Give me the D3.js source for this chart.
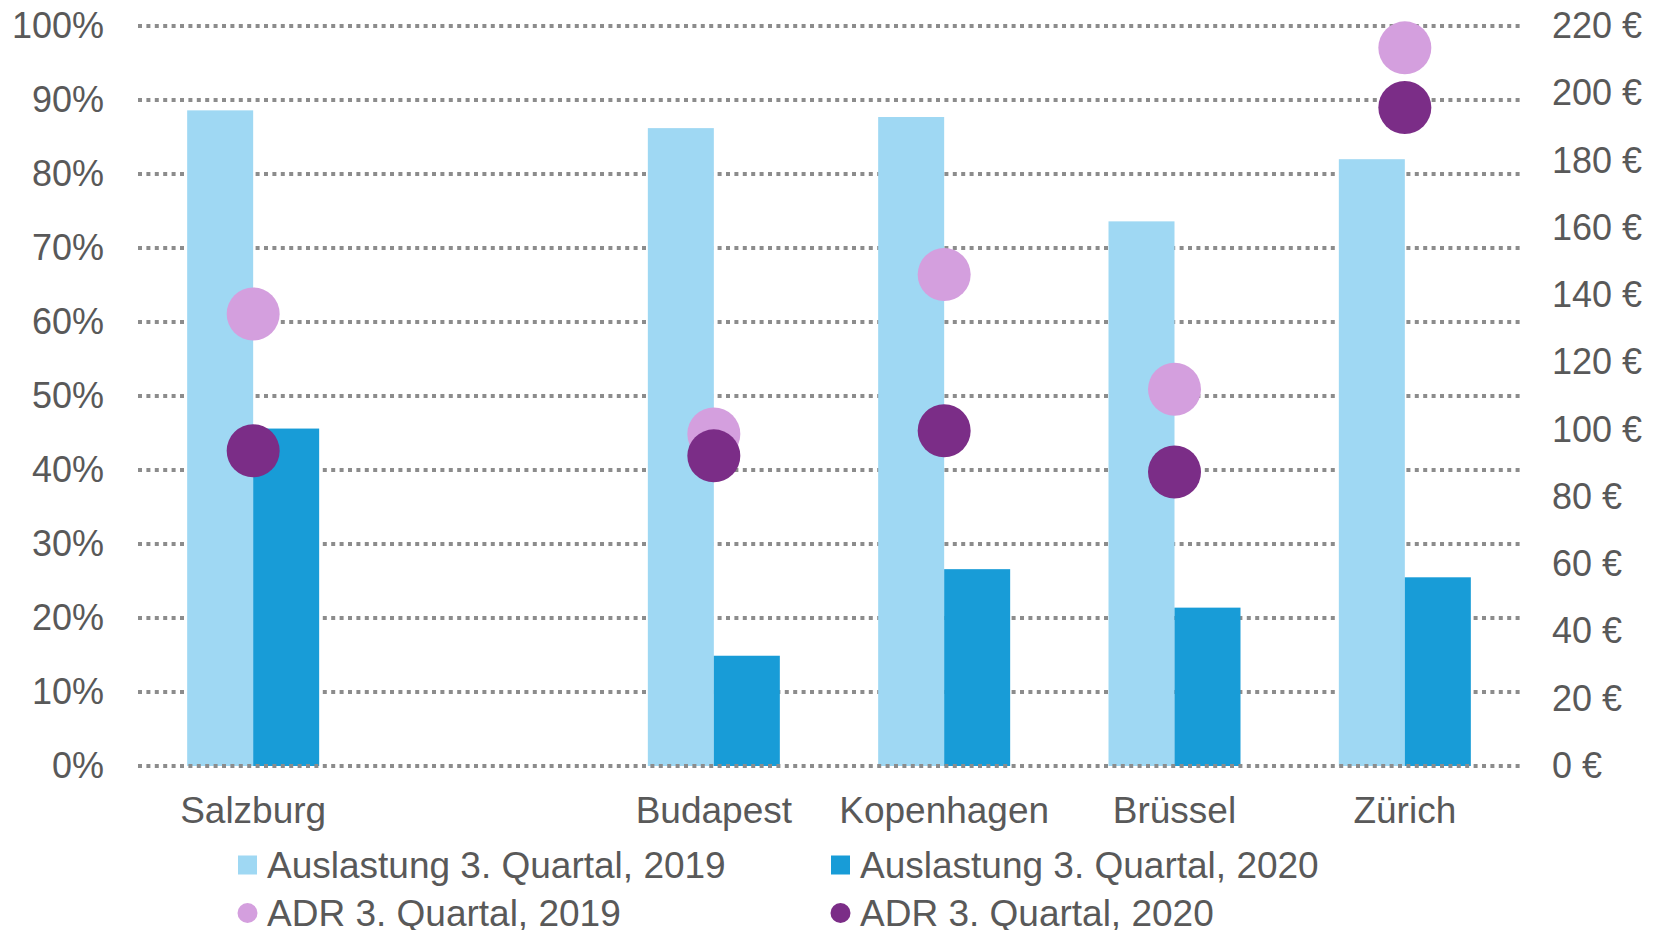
<!DOCTYPE html>
<html lang="de">
<head>
  <meta charset="UTF-8">
  <title>Auslastung und ADR</title>
  <script src="https://d3js.org/d3.v7.min.js"></script>
  <style>
    body {
      margin: 0;
      background: #fff;
      font-family: 'Liberation Sans', Arial, sans-serif;
    }
    text {
      fill: #595959;
    }
  </style>
</head>
<body>
  <script>
    // data
    var categories = ["Salzburg", "", "Budapest", "Kopenhagen", "Brüssel", "Zürich"];
    var auslastung2019 = [0.886, null, 0.862, 0.877, 0.736, 0.820];
    var auslastung2020 = [0.456, null, 0.149, 0.266, 0.214, 0.255];
    var adr2019 = [134.4, null, 98.7, 146.1, 112.0, 213.5];
    var adr2020 = [93.7, null, 92.2, 99.7, 87.4, 195.8];
    var leftTicks = [0, 0.1, 0.2, 0.3, 0.4, 0.5, 0.6, 0.7, 0.8, 0.9, 1.0];
    var rightTicks = [0, 20, 40, 60, 80, 100, 120, 140, 160, 180, 200, 220];
    var legendItems = [
      { label: "Auslastung 3. Quartal, 2019", color: "#9fd8f3", shape: "rect" },
      { label: "Auslastung 3. Quartal, 2020", color: "#189cd7", shape: "rect" },
      { label: "ADR 3. Quartal, 2019", color: "#d49fde", shape: "circle" },
      { label: "ADR 3. Quartal, 2020", color: "#7b2d87", shape: "circle" }
    ];

    var width = 1663, height = 930;
    var plotLeft = 138, plotRight = 1520, plotTop = 26, plotBottom = 766;

    var svg = d3.select('body').append('svg')
      .attr('width', width)
      .attr('height', height);

    var x = d3.scaleBand().domain(categories).range([plotLeft, plotRight]);
    var x1 = d3.scaleBand().domain(["2019", "2020"]).range([0, x.bandwidth()]).paddingOuter(0.745);
    var yLeft = d3.scaleLinear().domain([0, 1]).range([plotBottom, plotTop]);
    var yRight = d3.scaleLinear().domain([0, 220]).range([plotBottom, plotTop]);

    function gridLine(sel) {
      sel.attr("x1", plotLeft).attr("x2", plotRight)
        .attr("y1", d => Math.round(yLeft(d))).attr("y2", d => Math.round(yLeft(d)))
        .attr("stroke", "#8c8c8c")
        .attr("stroke-width", 4)
        .attr("stroke-dasharray", "4,4.4");
    }

    svg.append("g").selectAll("line")
      .data(leftTicks.filter(d => d > 0))
      .join("line")
      .call(gridLine);

    // bars
    var rows = categories.map(function(c, i) {
      return { cat: c, a19: auslastung2019[i], a20: auslastung2020[i], d19: adr2019[i], d20: adr2020[i] };
    }).filter(d => d.a19 !== null);

    var bars = svg.append("g");
    bars.selectAll("rect.y19")
      .data(rows)
      .join("rect")
      .attr("class", "y19")
      .attr("x", d => x(d.cat) + x1("2019"))
      .attr("width", x1.bandwidth())
      .attr("y", d => yLeft(d.a19))
      .attr("height", d => yLeft(0) - yLeft(d.a19))
      .attr("fill", "#9fd8f3");
    bars.selectAll("rect.y20")
      .data(rows)
      .join("rect")
      .attr("class", "y20")
      .attr("x", d => x(d.cat) + x1("2020"))
      .attr("width", x1.bandwidth())
      .attr("y", d => yLeft(d.a20))
      .attr("height", d => yLeft(0) - yLeft(d.a20))
      .attr("fill", "#189cd7");

    svg.append("line").datum(0).call(gridLine);

    // ADR dots
    var cx = d => x(d.cat) + x.bandwidth() / 2;
    svg.append("g").selectAll("circle")
      .data(rows)
      .join("circle")
      .attr("cx", cx)
      .attr("cy", d => yRight(d.d19))
      .attr("r", 26.5)
      .attr("fill", "#d49fde");
    svg.append("g").selectAll("circle")
      .data(rows)
      .join("circle")
      .attr("cx", cx)
      .attr("cy", d => yRight(d.d20))
      .attr("r", 26.5)
      .attr("fill", "#7b2d87");

    // axes
    var axisL = svg.append("g")
      .attr("transform", "translate(110,0)")
      .call(d3.axisLeft(yLeft).tickValues(leftTicks).tickSize(0).tickPadding(6).tickFormat(d3.format(".0%")));
    var axisR = svg.append("g")
      .attr("transform", "translate(1546,0)")
      .call(d3.axisRight(yRight).tickValues(rightTicks).tickSize(0).tickPadding(6).tickFormat(d => d + " €"));
    [axisL, axisR].forEach(function(a) {
      a.select(".domain").remove();
      a.selectAll("text")
        .attr("font-size", 36)
        .attr("font-family", "'Liberation Sans', Arial, sans-serif")
        .attr("fill", "#595959");
    });

    // category labels
    svg.append("g").selectAll("text")
      .data(categories)
      .join("text")
      .attr("x", d => x(d) + x.bandwidth() / 2)
      .attr("y", 823)
      .attr("text-anchor", "middle")
      .attr("font-size", 37)
      .text(d => d);

    // legend
    var legend = svg.append("g").selectAll("g")
      .data(legendItems)
      .join("g")
      .attr("transform", (d, i) => "translate(" + (238 + (i % 2) * 593) + "," + (865 + Math.floor(i / 2) * 48) + ")");
    legend.filter(d => d.shape === "rect").append("rect")
      .attr("x", 0).attr("y", -9.5).attr("width", 19).attr("height", 19)
      .attr("fill", d => d.color);
    legend.filter(d => d.shape === "circle").append("circle")
      .attr("cx", 9.5).attr("cy", 0).attr("r", 10)
      .attr("fill", d => d.color);
    legend.append("text")
      .attr("x", 29)
      .attr("y", 13)
      .attr("font-size", 37)
      .text(d => d.label);
  </script>
</body>
</html>
